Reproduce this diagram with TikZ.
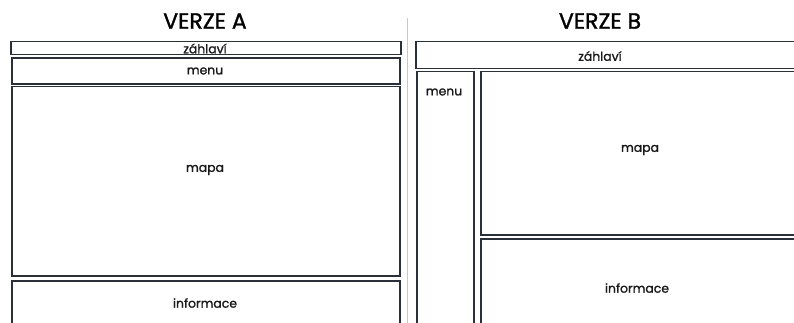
\documentclass[tikz,border=0pt]{standalone}
\usepackage{fontspec}
\setmainfont{Poppins}
\newfontfamily\medfont{Poppins}[FakeBold=1.3]
\usepackage{xcolor}
\usepackage{tikz}
\usetikzlibrary{positioning}
\definecolor{frame}{HTML}{2B2F3A}
\definecolor{rule}{HTML}{C8C8CC}
\tikzset{
  pane/.style={draw=frame,line width=1.5pt,anchor=north west,inner sep=0pt},
  lbl/.style={font=\medfont\fontsize{12.4}{14}\selectfont,text=black!90},
  title/.style={font=\medfont\fontsize{22}{26}\selectfont,text=black},
}
\begin{document}
\begin{tikzpicture}[x=1pt,y=-1pt]
\useasboundingbox (0,0) rectangle (794,323);
\clip (0,0) rectangle (794,323);
% verze A
\node[title] (tA) at (205,21) {VERZE A};
\node[pane,minimum width=390pt,minimum height=13pt] (hA) at (10,41) {};
\node[pane,minimum width=388pt,minimum height=26pt] (mA) at (11,57.5) {};
\node[pane,minimum width=388pt,minimum height=189pt] (pA) at (11,86) {};
\node[pane,minimum width=388pt,minimum height=44pt] (iA) at (11,280) {};
\node[lbl] (thA) at (205,48.5) {záhlaví};
\node[lbl] (tmA) at (205,71) {menu};
\node[lbl] (tpA) at (205,170) {mapa};
\node[lbl] (tiA) at (205,303) {informace};
% predel
\coordinate (d1) at (407,18);
\coordinate (d2) at (407,323);
\draw[rule,line width=0.8pt] (d1) -- (d2);
% verze B
\node[title] (tB) at (600,21) {VERZE B};
\node[pane,minimum width=390pt,minimum height=27pt] (hB) at (415,41) {};
\node[pane,minimum width=57pt,minimum height=260pt] (mB) at (416,71) {};
\node[pane,minimum width=330pt,minimum height=163pt] (pB) at (480,71) {};
\node[pane,minimum width=330pt,minimum height=100pt] (iB) at (480,238) {};
\node[lbl] (thB) at (600,56) {záhlaví};
\node[lbl] (tmB) at (444,92) {menu};
\node[lbl] (tpB) at (640,150) {mapa};
\node[lbl] (tiB) at (637,288) {informace};
\end{tikzpicture}
\end{document}
